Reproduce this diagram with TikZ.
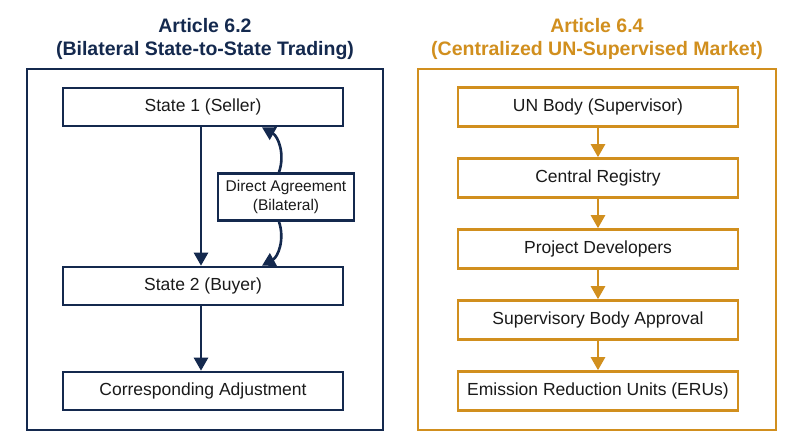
\documentclass[tikz,border=0pt]{standalone}
\usepackage{fontspec}
\setmainfont{Liberation Sans}
\usepackage{xcolor}
\usetikzlibrary{arrows.meta,positioning,calc}
\definecolor{navy}{HTML}{14294E}
\definecolor{gold}{HTML}{D18F1E}
\definecolor{ink}{HTML}{1A1A1A}
\tikzset{
  frame/.style ={draw,line width=2.8pt},
  navybox/.style={draw=navy,line width=2.6pt,fill=white,minimum width=280pt,
                 minimum height=38pt,inner sep=3pt,align=center,font=\fontsize{17.5}{20}\selectfont,text=ink},
  goldbox/.style={draw=gold,line width=2.6pt,fill=white,minimum width=280pt,
                 minimum height=39pt,inner sep=3pt,align=center,font=\fontsize{17.5}{20}\selectfont,text=ink},
  title/.style ={align=center,font=\bfseries\fontsize{19.5}{23}\selectfont},
  navyflow/.style={-{Triangle[length=13pt,width=14pt]},line width=2.6pt,draw=navy},
  goldflow/.style={-{Triangle[length=13pt,width=14pt]},line width=2.6pt,draw=gold}
}
\begin{document}
\begin{tikzpicture}[x=1pt,y=-1pt]
  \useasboundingbox[fill=white] (0,0) rectangle (800,447);
  % Article 6.2
  \node[title,text=navy] (ttlA) at (205,39) {Article 6.2\\(Bilateral State-to-State Trading)};
  \draw[frame,draw=navy] (27,69) rectangle (383,430);
  \node[navybox] (seller) at (203,107) {State 1 (Seller)};
  \node[navybox] (buyer) at (203,286) {State 2 (Buyer)};
  \node[navybox] (adjust) at (203,391) {Corresponding Adjustment};
  \node[navybox,minimum width=136pt,minimum height=47pt,font=\fontsize{15.5}{19}\selectfont] (deal) at (286,197) {Direct Agreement\\(Bilateral)};
  \draw[navyflow] (seller.south -| 201,0) -- (buyer.north -| 201,0);
  \draw[navyflow] (buyer.south -| 201,0) -- (adjust.north -| 201,0);
  \draw[navyflow] ([xshift=-7pt]deal.north) to[bend right=40] ([xshift=59pt]seller.south);
  \draw[navyflow] ([xshift=-7pt]deal.south) to[bend left=40] ([xshift=59pt]buyer.north);
  % Article 6.4
  \node[title,text=gold] (ttlB) at (597,39) {Article 6.4\\(Centralized UN-Supervised Market)};
  \draw[frame,draw=gold] (418,69) rectangle (776,430);
  \node[goldbox] (unbody) at (598,107) {UN Body (Supervisor)};
  \node[goldbox] (registry) at (598,178) {Central Registry};
  \node[goldbox] (devs) at (598,249) {Project Developers};
  \node[goldbox] (approval) at (598,320) {Supervisory Body Approval};
  \node[goldbox] (erus) at (598,391) {Emission Reduction Units (ERUs)};
  \foreach \a/\b in {unbody/registry,registry/devs,devs/approval,approval/erus}
    \draw[goldflow] (\a.south) -- (\b.north);
\end{tikzpicture}
\end{document}
